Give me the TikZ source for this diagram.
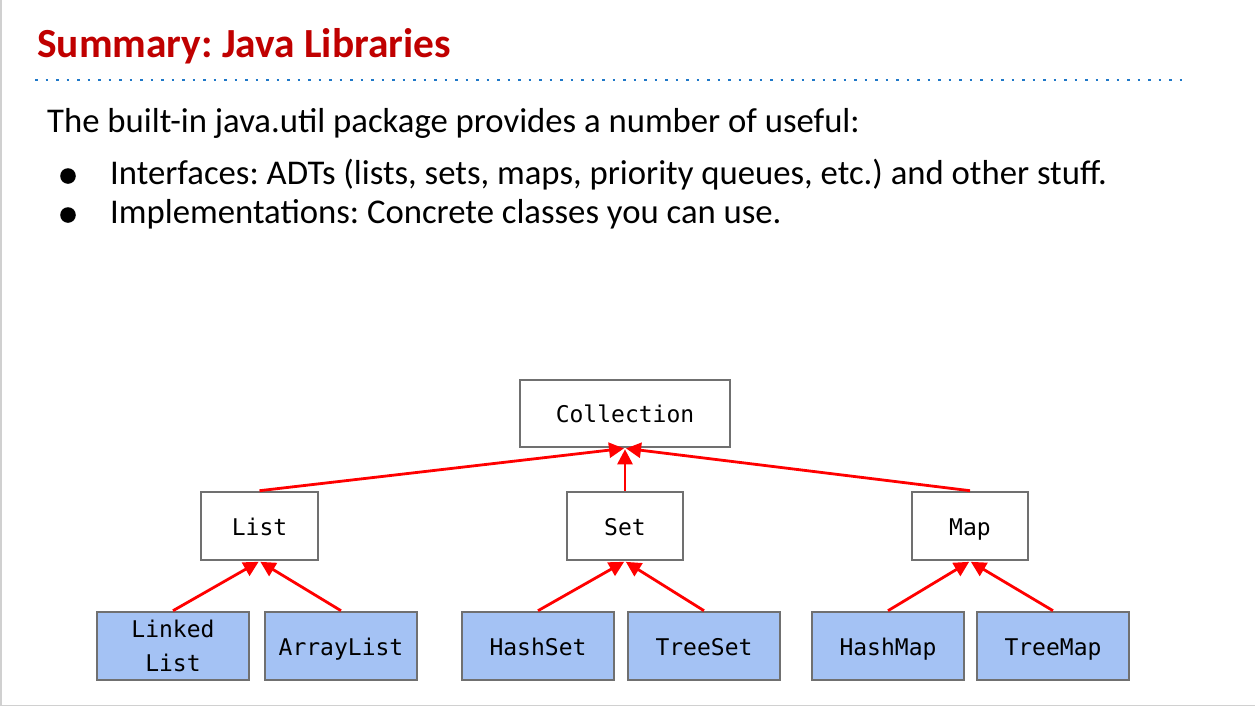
\documentclass[tikz,border=0pt]{standalone}
\usepackage{fontspec}
\setmainfont{Carlito}
\newfontfamily\codefont{DejaVu Sans Mono}
\usetikzlibrary{arrows.meta}
\definecolor{titlered}{HTML}{C00000}
\definecolor{rulecol}{HTML}{1E78C8}
\definecolor{boxedge}{HTML}{707070}
\definecolor{implfill}{HTML}{A4C2F4}
\definecolor{framecol}{HTML}{D0D0D0}
\frenchspacing
\begin{document}
\begin{tikzpicture}[x=1pt,y=-1pt,
  iface/.style={draw=boxedge,line width=2.6pt,fill=white,inner sep=0pt,
    font=\codefont\fontsize{23}{34}\selectfont,align=center},
  oneline/.style={text height=18.5pt,text depth=0pt},
  impl/.style={iface,fill=implfill,minimum width=152pt,minimum height=68pt},
  isa/.style={draw=red,line width=2.8pt,-{Triangle[length=15pt,width=15pt]},shorten >=1pt},
  body/.style={anchor=base west,inner sep=0pt,font=\fontsize{34.7}{40}\selectfont}]
\useasboundingbox (0,0) rectangle (1255,707);
\fill[white] (0,0) rectangle (1255,707);
\draw[framecol,line width=1.5pt] (0.75,0) -- (0.75,705.5) -- (1255,705.5);

% heading and dotted rule
\node[anchor=base west,inner sep=0pt,text=titlered,font=\bfseries\fontsize{41.4}{48}\selectfont]
  (title) at (37,57) {Summary: Java Libraries};
\draw[rulecol,line width=2.5pt,dash pattern=on 2.5pt off 8pt] (35,80) -- (1187,80);

% text
\node[body] (intro) at (47,132) {The built-in java.util package provides a number of useful:};
\fill (68,176) circle (7.8);
\node[body] (b1) at (110,184.5) {Interfaces: ADTs (lists, sets, maps, priority queues, etc.) and other stuff.};
\fill (68,215) circle (7.8);
\node[body] (b2) at (110,223.5) {Implementations: Concrete classes you can use.};

% interfaces
\node[iface,oneline,minimum width=210pt,minimum height=67pt] (coll) at (625,413.5) {Collection};
\node[iface,oneline,minimum width=117pt,minimum height=68pt] (list) at (259.5,526) {List};
\node[iface,oneline,minimum width=116pt,minimum height=68pt] (set) at (625,526) {Set};
\node[iface,oneline,minimum width=116pt,minimum height=68pt] (map) at (970,526) {Map};

% implementations
\node[impl] (ll) at (173,646) {Linked\\List};
\node[impl,oneline] (al) at (341,646) {ArrayList};
\node[impl,oneline] (hs) at (538,646) {HashSet};
\node[impl,oneline] (ts) at (704,646) {TreeSet};
\node[impl,oneline] (hm) at (888,646) {HashMap};
\node[impl,oneline] (tm) at (1053,646) {TreeMap};

% inheritance arrows
\draw[isa] (list.north) -- (coll.south);
\draw[isa] (set.north) -- (coll.south);
\draw[isa] (map.north) -- (coll.south);
\draw[isa] (ll.north) -- (list.south);
\draw[isa] (al.north) -- (list.south);
\draw[isa] (hs.north) -- (set.south);
\draw[isa] (ts.north) -- (set.south);
\draw[isa] (hm.north) -- (map.south);
\draw[isa] (tm.north) -- (map.south);
\end{tikzpicture}
\end{document}
